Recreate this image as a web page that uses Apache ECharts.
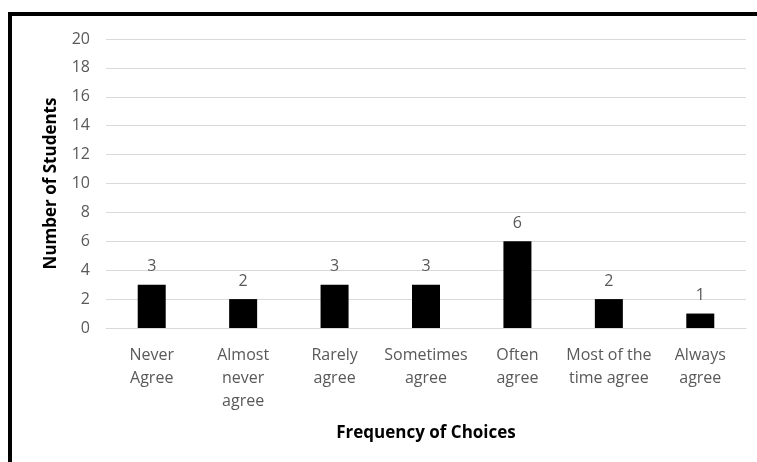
<!DOCTYPE html>
<html>
<head>
<meta charset="utf-8">
<script src="https://cdn.jsdelivr.net/npm/echarts@6/dist/echarts.min.js"></script>
<style>
  html, body { margin: 0; padding: 0; background: #fff; }
  #wrap { position: relative; width: 757px; height: 462px; overflow: hidden; }
  #chart { position: absolute; left: 0; top: 0; width: 757px; height: 462px; }
  #frame { position: absolute; left: 8px; top: 12px; width: 800px; height: 500px;
           border-top: 4px solid #000; border-left: 4px solid #000; pointer-events: none; }
</style>
</head>
<body>
<div id="wrap">
  <div id="chart"></div>
  <div id="frame"></div>
</div>
<script>
// Response categories and how many students picked each
const categories = [
  'Never\nAgree',
  'Almost\nnever\nagree',
  'Rarely\nagree',
  'Sometimes\nagree',
  'Often\nagree',
  'Most of the\ntime agree',
  'Always\nagree'
];
const studentCounts = [3, 2, 3, 3, 6, 2, 1];
const yMin = 0;
const yMax = 20;
const yStep = 2;

const FONT = '"Open Sans", Lato, sans-serif';
const chart = echarts.init(document.getElementById('chart'));
chart.setOption({
  animation: false,
  grid: { left: 106, right: 11, top: 39, bottom: 134, containLabel: false },
  xAxis: {
    type: 'category',
    data: categories,
    name: 'Frequency of Choices',
    nameLocation: 'middle',
    nameGap: 97,
    nameTextStyle: { fontFamily: FONT, fontSize: 17, fontWeight: 'bold', color: '#000' },
    axisLine: { show: true, lineStyle: { color: '#d9d9d9', width: 1 } },
    axisTick: { show: false },
    axisLabel: {
      interval: 0, margin: 16, fontFamily: FONT, fontSize: 16, color: '#595959', lineHeight: 23
    }
  },
  yAxis: {
    type: 'value',
    min: yMin, max: yMax, interval: yStep,
    name: 'Number of Students',
    nameLocation: 'middle',
    nameGap: 46,
    nameRotate: 90,
    nameTextStyle: { fontFamily: FONT, fontSize: 17, fontWeight: 'bold', color: '#000' },
    axisLine: { show: false },
    axisTick: { show: false },
    axisLabel: { margin: 16, fontFamily: FONT, fontSize: 16, color: '#595959' },
    splitLine: { lineStyle: { color: '#d9d9d9', width: 1 } }
  },
  series: [{
    type: 'bar',
    data: studentCounts,
    barWidth: 28,
    itemStyle: { color: '#000' },
    label: {
      show: true, position: 'top', distance: 10,
      fontFamily: FONT, fontSize: 16, color: '#595959'
    }
  }]
});
</script>
</body>
</html>
